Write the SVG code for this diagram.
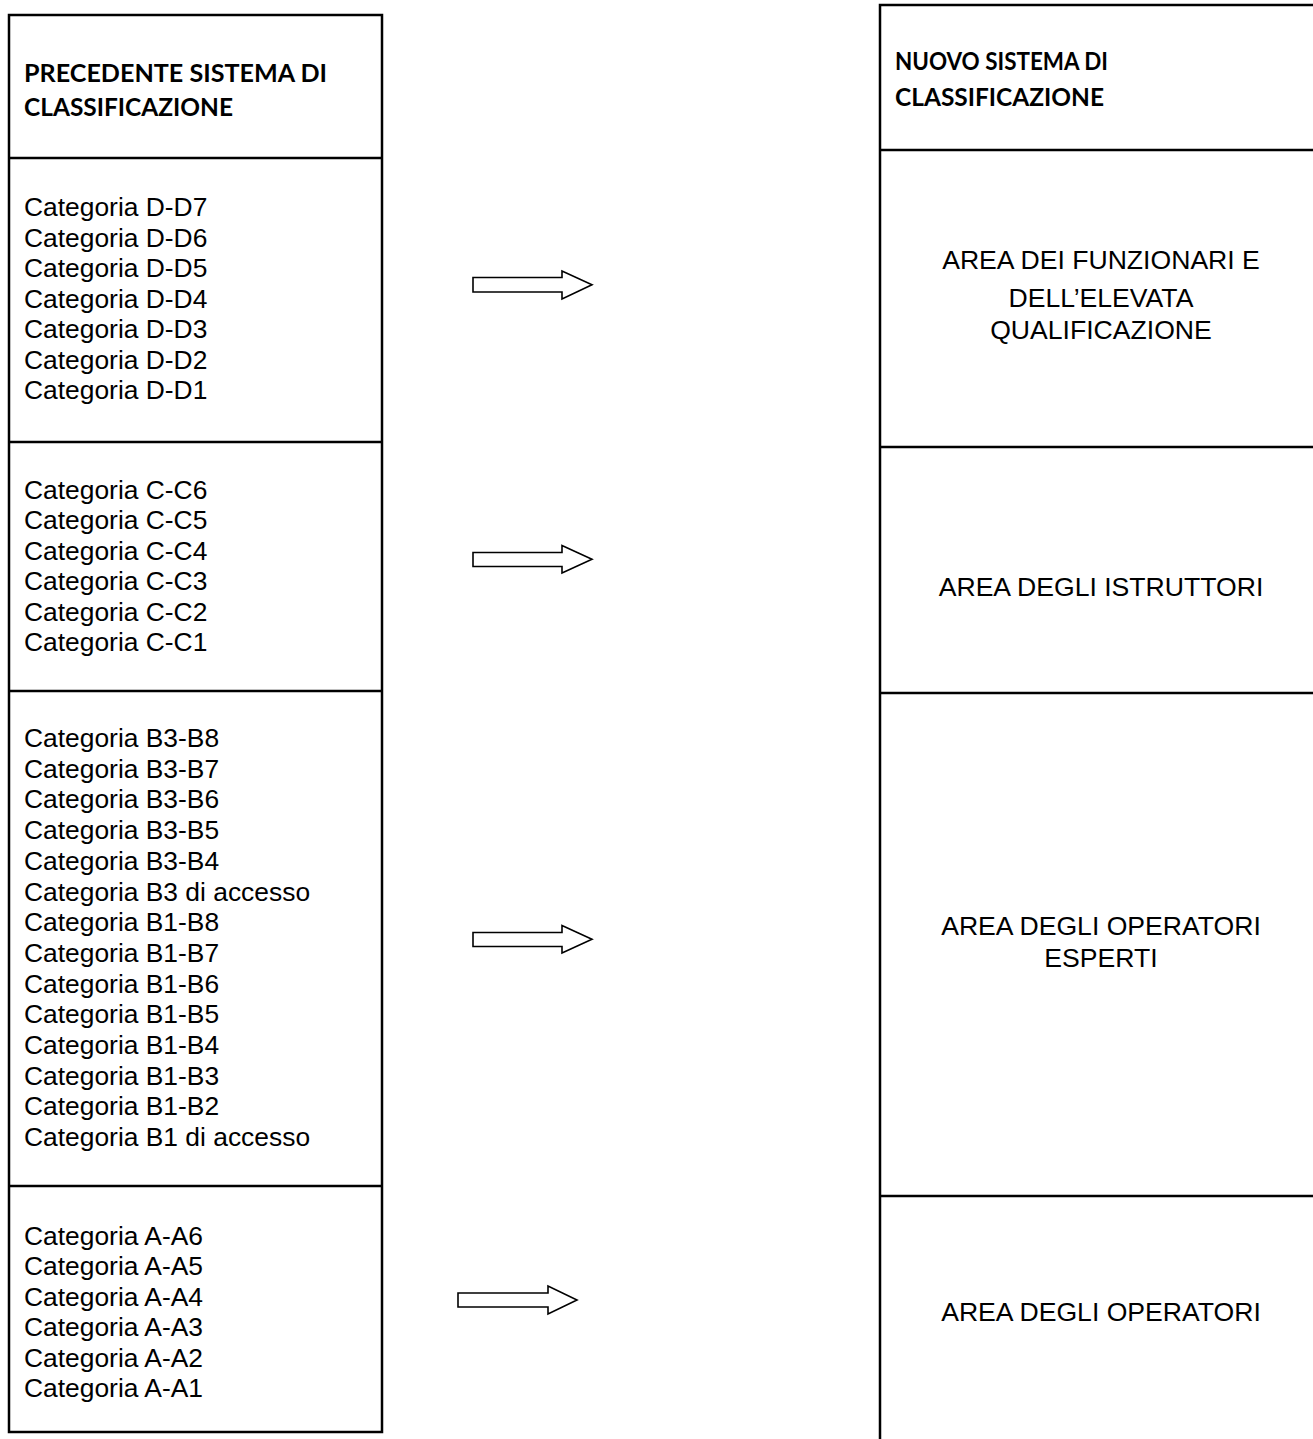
<svg xmlns="http://www.w3.org/2000/svg" width="1313" height="1439" viewBox="0 0 1313 1439">
<style>
.box{fill:none;stroke:#000;stroke-width:2.5}
.hd{font-family:Lato,"Liberation Sans",sans-serif;font-weight:bold;font-size:25px;fill:#000}
.t{font-family:"Liberation Sans",Arial,sans-serif;font-size:26.4px;fill:#000}
.r{font-family:"Liberation Sans",Arial,sans-serif;font-size:26.6px;fill:#000;text-anchor:middle}
.arr{fill:#fff;stroke:#000;stroke-width:1.6;stroke-linejoin:miter}
</style>
<rect width="1313" height="1439" fill="#fff"/>
<g id="left-table">
<rect class="box" x="9" y="15" width="373" height="1417"/>
<line class="box" x1="9" y1="158" x2="382" y2="158"/>
<line class="box" x1="9" y1="442" x2="382" y2="442"/>
<line class="box" x1="9" y1="691" x2="382" y2="691"/>
<line class="box" x1="9" y1="1186" x2="382" y2="1186"/>
</g>
<g id="left-header">
<text class="hd" x="24" y="82" textLength="303" lengthAdjust="spacingAndGlyphs">PRECEDENTE SISTEMA DI</text>
<text class="hd" x="24" y="116" textLength="209" lengthAdjust="spacingAndGlyphs">CLASSIFICAZIONE</text>
</g>
<g id="cat-D" class="t">
<text x="24" y="216">Categoria D-D7</text>
<text x="24" y="246.5">Categoria D-D6</text>
<text x="24" y="277">Categoria D-D5</text>
<text x="24" y="307.5">Categoria D-D4</text>
<text x="24" y="338">Categoria D-D3</text>
<text x="24" y="368.5">Categoria D-D2</text>
<text x="24" y="399">Categoria D-D1</text>
</g>
<g id="cat-C" class="t">
<text x="24" y="499">Categoria C-C6</text>
<text x="24" y="529.4">Categoria C-C5</text>
<text x="24" y="559.8">Categoria C-C4</text>
<text x="24" y="590.2">Categoria C-C3</text>
<text x="24" y="620.6">Categoria C-C2</text>
<text x="24" y="651">Categoria C-C1</text>
</g>
<g id="cat-B" class="t">
<text x="24" y="747">Categoria B3-B8</text>
<text x="24" y="777.7">Categoria B3-B7</text>
<text x="24" y="808.4">Categoria B3-B6</text>
<text x="24" y="839.1">Categoria B3-B5</text>
<text x="24" y="869.8">Categoria B3-B4</text>
<text x="24" y="900.5">Categoria B3 di accesso</text>
<text x="24" y="931.2">Categoria B1-B8</text>
<text x="24" y="961.9">Categoria B1-B7</text>
<text x="24" y="992.6">Categoria B1-B6</text>
<text x="24" y="1023.3">Categoria B1-B5</text>
<text x="24" y="1054">Categoria B1-B4</text>
<text x="24" y="1084.7">Categoria B1-B3</text>
<text x="24" y="1115.4">Categoria B1-B2</text>
<text x="24" y="1146.1">Categoria B1 di accesso</text>
</g>
<g id="cat-A" class="t">
<text x="24" y="1245">Categoria A-A6</text>
<text x="24" y="1275.4">Categoria A-A5</text>
<text x="24" y="1305.8">Categoria A-A4</text>
<text x="24" y="1336.2">Categoria A-A3</text>
<text x="24" y="1366.6">Categoria A-A2</text>
<text x="24" y="1397">Categoria A-A1</text>
</g>
<g id="right-table">
<polyline class="box" points="1313,5 880,5 880,1439"/>
<line class="box" x1="880" y1="150" x2="1313" y2="150"/>
<line class="box" x1="880" y1="447" x2="1313" y2="447"/>
<line class="box" x1="880" y1="693" x2="1313" y2="693"/>
<line class="box" x1="880" y1="1196" x2="1313" y2="1196"/>
</g>
<g id="right-header">
<text class="hd" x="895" y="70" textLength="213" lengthAdjust="spacingAndGlyphs">NUOVO SISTEMA DI</text>
<text class="hd" x="895" y="106" textLength="209" lengthAdjust="spacingAndGlyphs">CLASSIFICAZIONE</text>
</g>
<g id="area-funzionari">
<text class="r" x="1101" y="269">AREA DEI FUNZIONARI E</text>
<text class="r" x="1101" y="307">DELL’ELEVATA</text>
<text class="r" x="1101" y="339">QUALIFICAZIONE</text>
</g>
<g id="area-istruttori">
<text class="r" x="1101" y="596">AREA DEGLI ISTRUTTORI</text>
</g>
<g id="area-operatori-esperti">
<text class="r" x="1101" y="935">AREA DEGLI OPERATORI</text>
<text class="r" x="1101" y="967">ESPERTI</text>
</g>
<g id="area-operatori">
<text class="r" x="1101" y="1321">AREA DEGLI OPERATORI</text>
</g>
<g id="connectors">
<polygon class="arr" points="473,277.5 562,277.5 562,271 592,284.7 562,299 562,292 473,292"/>
<polygon class="arr" points="473,552.5 562,552.5 562,545.5 592,559.3 562,573 562,566.5 473,566.5"/>
<polygon class="arr" points="473,932.5 562,932.5 562,925.5 592,939.3 562,953 562,946.5 473,946.5"/>
<polygon class="arr" points="458,1293 548,1293 548,1286 577,1300 548,1314 548,1307 458,1307"/>
</g>
</svg>
